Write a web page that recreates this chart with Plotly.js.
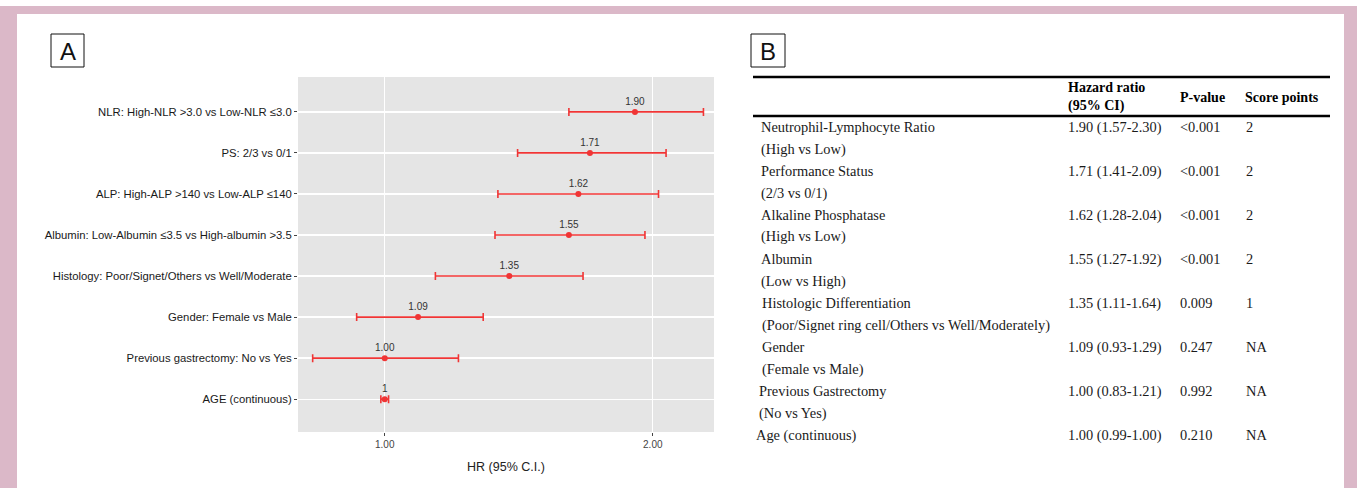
<!DOCTYPE html>
<html>
<head>
<meta charset="utf-8">
<script src="https://cdn.plot.ly/plotly-3.0.1.min.js"></script>
<style>html,body{margin:0;padding:0;background:#fff;}#chart{width:1357px;height:488px;}</style>
</head>
<body>
<div id="chart"></div>
<script>
// ---- Panel A data (forest plot) ----
const categories = [
  "NLR: High-NLR >3.0 vs Low-NLR ≤3.0",
  "PS: 2/3 vs 0/1",
  "ALP: High-ALP >140 vs Low-ALP ≤140",
  "Albumin: Low-Albumin ≤3.5 vs High-albumin >3.5",
  "Histology: Poor/Signet/Others vs Well/Moderate",
  "Gender: Female vs Male",
  "Previous gastrectomy: No vs Yes",
  "AGE (continuous)"
];
const hrPlotted = [1.91, 1.70, 1.65, 1.61, 1.38, 1.09, 1.00, 1.00];
const ciLower   = [1.61, 1.41, 1.34, 1.33, 1.14, 0.93, 0.83, 0.99];
const ciUpper   = [2.28, 2.07, 2.03, 1.96, 1.67, 1.29, 1.21, 1.01];
const hrLabels  = ["1.90", "1.71", "1.62", "1.55", "1.35", "1.09", "1.00", "1"];
const xTickVals = [1, 2];
const xTickText = ["1.00", "2.00"];

// ---- Panel B data (table) ----
const tblHeader = ["Hazard ratio", "(95% CI)", "P-value", "Score points"];
const tblVar    = ["Neutrophil-Lymphocyte Ratio", "Performance Status", "Alkaline Phosphatase", "Albumin",
                   "Histologic Differentiation", "Gender", "Previous Gastrectomy", "Age (continuous)"];
const tblSub    = ["(High vs Low)", "(2/3 vs 0/1)", "(High vs Low)", "(Low vs High)",
                   "(Poor/Signet ring cell/Others vs Well/Moderately)", "(Female vs Male)", "(No vs Yes)", ""];
const tblHR     = ["1.90 (1.57-2.30)", "1.71 (1.41-2.09)", "1.62 (1.28-2.04)", "1.55 (1.27-1.92)",
                   "1.35 (1.11-1.64)", "1.09 (0.93-1.29)", "1.00 (0.83-1.21)", "1.00 (0.99-1.00)"];
const tblP      = ["<0.001", "<0.001", "<0.001", "<0.001", "0.009", "0.247", "0.992", "0.210"];
const tblScore  = ["2", "2", "2", "2", "1", "NA", "NA", "NA"];

// ---- geometry helpers (pixel -> paper) ----
const W = 1357, H = 488;
const PL = 298, PR = 714, PT = 77, PB = 432;
const px = X => (X - PL) / (PR - PL);
const py = Y => (PB - Y) / (PB - PT);

const yIdx = categories.map((_, i) => i);
const red = '#f03535';

const trace = {
  type: 'scatter',
  mode: 'markers+text',
  x: hrPlotted,
  y: yIdx,
  text: hrLabels,
  textposition: 'top center',
  textfont: {family: 'Liberation Sans, Arial, sans-serif', size: 10, color: '#333333'},
  marker: {color: red, size: 6},
  error_x: {
    type: 'data', symmetric: false,
    array: hrPlotted.map((v, i) => ciUpper[i] - v),
    arrayminus: hrPlotted.map((v, i) => v - ciLower[i]),
    color: red, thickness: 1.6, width: 4
  },
  cliponaxis: false,
  hoverinfo: 'skip',
  showlegend: false
};

const shapes = [];
const annotations = [];
const pink = '#dbb8c8';
// frame
shapes.push({type: 'rect', xref: 'paper', yref: 'paper', x0: px(0), x1: px(W), y0: py(6), y1: py(14), fillcolor: pink, line: {width: 0}, layer: 'below'});
shapes.push({type: 'rect', xref: 'paper', yref: 'paper', x0: px(0), x1: px(17), y0: py(6), y1: py(H), fillcolor: pink, line: {width: 0}, layer: 'below'});
shapes.push({type: 'rect', xref: 'paper', yref: 'paper', x0: px(1344), x1: px(W), y0: py(6), y1: py(H), fillcolor: pink, line: {width: 0}, layer: 'below'});
// panel letter boxes
shapes.push({type: 'rect', xref: 'paper', yref: 'paper', x0: px(51), x1: px(84), y0: py(34), y1: py(67), line: {color: '#111', width: 1}});
shapes.push({type: 'rect', xref: 'paper', yref: 'paper', x0: px(751), x1: px(785), y0: py(34), y1: py(67), line: {color: '#111', width: 1}});
annotations.push({xref: 'paper', yref: 'paper', x: px(67.5), y: py(51), text: 'A', showarrow: false,
  font: {family: 'Liberation Sans, Arial, sans-serif', size: 24, color: '#111'}, xanchor: 'center', yanchor: 'middle'});
annotations.push({xref: 'paper', yref: 'paper', x: px(768), y: py(51), text: 'B', showarrow: false,
  font: {family: 'Liberation Sans, Arial, sans-serif', size: 24, color: '#111'}, xanchor: 'center', yanchor: 'middle'});

// table rules
shapes.push({type: 'line', xref: 'paper', yref: 'paper', x0: px(753), x1: px(1330), y0: py(77), y1: py(77), line: {color: '#000', width: 2.5}});
shapes.push({type: 'line', xref: 'paper', yref: 'paper', x0: px(753), x1: px(1330), y0: py(116), y1: py(116), line: {color: '#000', width: 2.5}});

const serif = 'Liberation Serif, Times New Roman, serif';
const tfont = {family: serif, size: 14.4, color: '#1a1a1a'};
const bfont = {family: serif, size: 14, color: '#000'};
function txt(X, Y, s, f) {
  annotations.push({xref: 'paper', yref: 'paper', x: px(X), y: py(Y), text: s, showarrow: false,
    font: f, xanchor: 'left', yanchor: 'middle'});
}
txt(1066, 88, '<b>' + tblHeader[0] + '</b>', bfont);
txt(1066, 106, '<b>' + tblHeader[1] + '</b>', bfont);
txt(1178, 97, '<b>' + tblHeader[2] + '</b>', bfont);
txt(1243, 97, '<b>' + tblHeader[3] + '</b>', bfont);

const indent = [759, 759, 759, 759, 760, 760, 757, 754];
tblVar.forEach((v, i) => {
  const y0 = 127 + 44 * i;
  txt(indent[i], y0, v, tfont);
  if (tblSub[i]) txt(indent[i], y0 + 22, tblSub[i], tfont);
  txt(1066, y0, tblHR[i], tfont);
  txt(1178, y0, tblP[i].replace('<', '&lt;'), tfont);
  txt(1244, y0, tblScore[i], tfont);
});

const layout = {
  width: W, height: H,
  margin: {l: PL, r: W - PR, t: PT, b: H - PB, pad: 0},
  paper_bgcolor: '#ffffff',
  plot_bgcolor: '#e5e5e5',
  showlegend: false,
  xaxis: {
    type: 'log',
    range: [-0.0974, 0.3698],
    tickvals: xTickVals, ticktext: xTickText,
    showgrid: true, gridcolor: '#ffffff', gridwidth: 1.3,
    zeroline: false, showline: false,
    ticks: 'outside', ticklen: 3, tickcolor: '#444', tickwidth: 1,
    tickfont: {family: 'Liberation Sans, Arial, sans-serif', size: 10, color: '#444'},
    title: {text: 'HR (95% C.I.)', font: {family: 'Liberation Sans, Arial, sans-serif', size: 12.5, color: '#222'}, standoff: 13},
    fixedrange: true
  },
  yaxis: {
    range: [7.8, -0.85],
    tickvals: yIdx, ticktext: categories,
    showgrid: true, gridcolor: '#ffffff', gridwidth: 1.3,
    zeroline: false, showline: false,
    ticks: 'outside', ticklen: 3, tickcolor: '#444', tickwidth: 1,
    tickfont: {family: 'Liberation Sans, Arial, sans-serif', size: 11.3, color: '#1a1a1a'},
    fixedrange: true
  },
  shapes: shapes,
  annotations: annotations
};

Plotly.newPlot('chart', [trace], layout, {displayModeBar: false, staticPlot: true});
</script>
</body>
</html>
